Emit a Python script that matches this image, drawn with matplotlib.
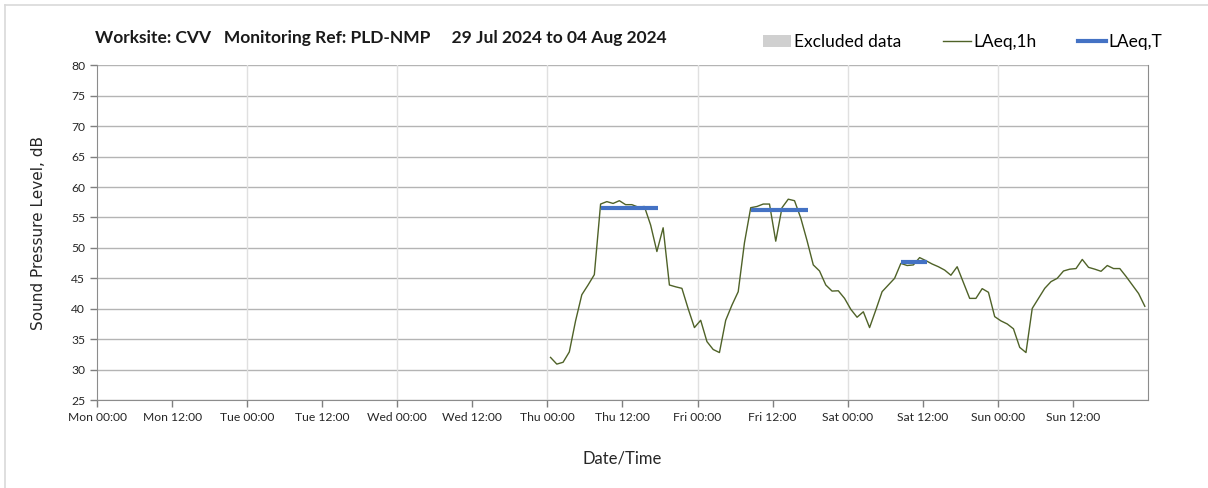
import matplotlib
matplotlib.use("Agg")
import matplotlib.pyplot as plt
from matplotlib.lines import Line2D
from matplotlib.patches import Patch

plt.rcParams['font.family'] = ['Lato', 'DejaVu Sans']

# hours since Mon 00:00, first hourly value at Thu 00:30
start_hour = 72.5
laeq_1h = [32.0, 30.9, 31.2, 32.9, 38.0, 42.3, 43.9, 45.6, 57.2, 57.6,
           57.3, 57.75, 57.1, 57.1, 56.7, 56.8, 53.75, 49.4, 53.3, 43.9,
           43.6, 43.35, 40.0, 36.9, 38.1, 34.6, 33.3, 32.8, 38.1, 40.6,
           42.8, 50.85, 56.6, 56.8, 57.2, 57.2, 51.1, 56.6, 58.0, 57.75,
           54.9, 51.2, 47.2, 46.2, 43.9, 42.9, 42.95, 41.7, 39.9, 38.6,
           39.5, 36.9, 39.8, 42.8, 43.9, 45.0, 47.45, 47.1, 47.2, 48.4,
           47.9, 47.35, 46.9, 46.35, 45.5, 46.9, 44.3, 41.7, 41.7, 43.3,
           42.7, 38.7, 38.0, 37.5, 36.7, 33.65, 32.8, 40.05, 41.7, 43.35,
           44.45, 45.0, 46.2, 46.5, 46.6, 48.1, 46.8, 46.5, 46.15, 47.1,
           46.6, 46.6, 45.3, 43.9, 42.5, 40.4]
hours = [start_hour + i for i in range(len(laeq_1h))]

# LAeq,T periods (start hour, end hour, level)
period_start = [80.5, 104.5, 128.5]
period_end = [89.7, 113.7, 132.7]
period_level = [56.5, 56.2, 47.6]

tick_hours = list(range(0, 168, 12))
tick_labels = ['Mon 00:00', 'Mon 12:00', 'Tue 00:00', 'Tue 12:00', 'Wed 00:00',
               'Wed 12:00', 'Thu 00:00', 'Thu 12:00', 'Fri 00:00', 'Fri 12:00',
               'Sat 00:00', 'Sat 12:00', 'Sun 00:00', 'Sun 12:00']

green = '#4f6228'
blue = '#4472c4'

fig = plt.figure(figsize=(12.08, 4.88), dpi=100)
ax = fig.add_axes([0.0803, 0.1803, 0.8700, 0.6859])

# grid
for y in range(25, 85, 5):
    ax.axhline(y, color='#b4b4b4', lw=1.0, zorder=1)
for d in range(24, 168, 24):
    ax.axvline(d, color='#e0e0e0', lw=1.0, zorder=1)

ax.plot(hours, laeq_1h, color=green, lw=1.0, zorder=3)
for s, e, lv in zip(period_start, period_end, period_level):
    ax.plot([s, e], [lv, lv], color=blue, lw=3.0, solid_capstyle='butt', zorder=4)

ax.set_xlim(0, 168)
ax.set_ylim(25, 80)
ax.set_yticks(range(25, 85, 5))
ax.set_xticks(tick_hours)
ax.set_xticklabels(tick_labels)
ax.tick_params(axis='both', labelsize=8.7, colors='#7f7f7f', labelcolor='#262626',
               length=5, width=1)
for side in ['left', 'bottom', 'right']:
    ax.spines[side].set_color('#8c8c8c')
ax.spines['top'].set_visible(False)

ax.set_ylabel('Sound Pressure Level, dB', fontsize=11, family=['DejaVu Sans'],
              color='#262626', labelpad=18)
ax.set_xlabel('Date/Time', fontsize=12, color='#262626', labelpad=20)

fig.text(0.0786, 0.922, 'Worksite: CVV   Monitoring Ref: PLD-NMP     29 Jul 2024 to 04 Aug 2024',
         fontsize=12.5, fontweight='bold', color='#1a1a1a', va='center')

handles = [Patch(facecolor='#d0d0d0', edgecolor='none'),
           Line2D([], [], color=green, lw=1.0),
           Line2D([], [], color=blue, lw=3.0)]
fig.legend(handles, ['Excluded data', 'LAeq,1h', 'LAeq,T'], loc='center right',
           bbox_to_anchor=(0.975, 0.913), ncol=3, frameon=False, fontsize=12.5,
           handlelength=1.6, handletextpad=0.15, columnspacing=2.4)

# outer frame of the report panel
fig.add_artist(Line2D([0.004, 1.0], [0.99, 0.99], color='#d9d9d9', lw=1.2))
fig.add_artist(Line2D([0.004, 0.004], [0.0, 0.99], color='#d9d9d9', lw=1.2))

fig.savefig('out.png', dpi=100)
